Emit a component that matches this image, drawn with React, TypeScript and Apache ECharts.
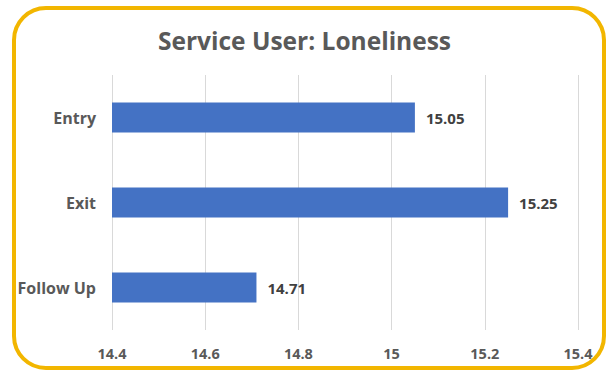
import React, { useEffect, useRef } from "react";
import * as echarts from "echarts";

const categories = ["Entry", "Exit", "Follow Up"];
const values = [15.05, 15.25, 14.71];
const axisMin = 14.4;
const axisMax = 15.4;
const axisStep = 0.2;
const titleText = "Service User: Loneliness";

export default function App() {
  const ref = useRef<HTMLDivElement>(null);
  useEffect(() => {
    if (!ref.current) return;
    const chart = echarts.init(ref.current, null, { renderer: "svg" });
    const font = "'Open Sans', 'Noto Sans', sans-serif";
    chart.setOption({
      animation: false,
      backgroundColor: "#ffffff",
      title: {
        text: titleText,
        left: "center",
        top: 23,
        textStyle: { fontFamily: font, fontSize: 24.5, fontWeight: "bold", color: "#595959" },
      },
      graphic: [
        {
          type: "rect",
          shape: { x: 14, y: 8, width: 590, height: 360, r: 32 },
          style: { fill: "none", stroke: "#F2B600", lineWidth: 4 },
          silent: true,
        },
      ],
      grid: { left: 112, right: 31, top: 75, bottom: 43, containLabel: false },
      xAxis: {
        type: "value",
        min: axisMin,
        max: axisMax,
        interval: axisStep,
        axisLine: { show: false },
        axisTick: { show: false },
        splitLine: { show: true, lineStyle: { color: "#d9d9d9", width: 1 } },
        axisLabel: {
          margin: 16,
          fontFamily: font,
          fontSize: 14.5,
          fontWeight: "bold",
          color: "#595959",
          formatter: (v: number) => String(Math.round(v * 10) / 10),
        },
      },
      yAxis: {
        type: "category",
        data: categories,
        inverse: true,
        axisLine: { show: false },
        axisTick: { show: false },
        axisLabel: {
          margin: 16,
          fontFamily: font,
          fontSize: 16,
          fontWeight: "bold",
          color: "#595959",
        },
      },
      series: [
        {
          type: "bar",
          data: values,
          barWidth: 30,
          itemStyle: { color: "#4472C4" },
          label: {
            show: true,
            position: "right",
            distance: 11,
            fontFamily: font,
            fontSize: 15,
            fontWeight: "bold",
            color: "#404040",
          },
        },
      ],
    });
    return () => chart.dispose();
  }, []);
  return <div ref={ref} style={{ width: 609, height: 373, position: "fixed", left: 0, top: 0 }} />;
}
